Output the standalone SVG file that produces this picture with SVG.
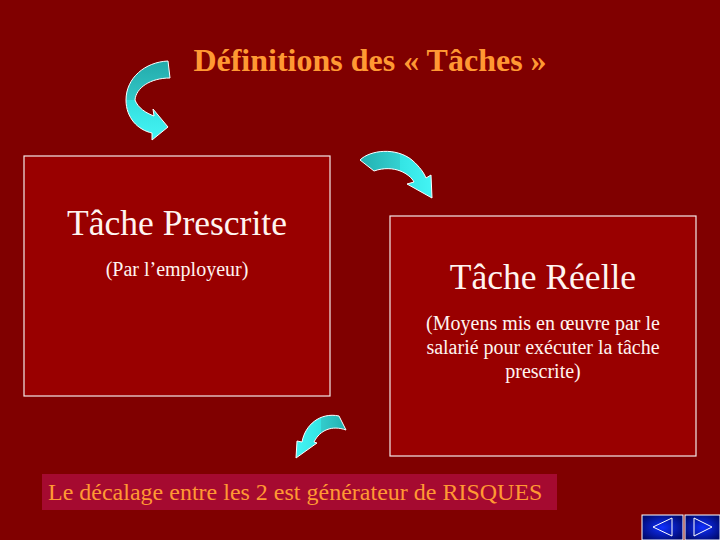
<svg xmlns="http://www.w3.org/2000/svg" width="720" height="540" viewBox="0 0 720 540">
<style>
.box{fill:#990000;stroke:#f4e8e8;stroke-width:1.2}
.big{font-family:"Liberation Serif",serif;font-size:35.5px;fill:#fff4f0;text-anchor:middle}
.small{font-family:"Liberation Serif",serif;font-size:20px;fill:#fff4f0;text-anchor:middle}
.arrow{stroke:#ffffff;stroke-width:1}
</style>
<defs>
<linearGradient id="g1" gradientUnits="userSpaceOnUse" x1="0" y1="60" x2="0" y2="140">
<stop offset="0" stop-color="#22aaaa"/><stop offset="0.5" stop-color="#33c6c6"/><stop offset="0.5" stop-color="#33dede"/><stop offset="1" stop-color="#44f4f4"/>
</linearGradient>
<linearGradient id="g2" gradientUnits="userSpaceOnUse" x1="360" y1="0" x2="432" y2="0">
<stop offset="0" stop-color="#22b0b0"/><stop offset="0.55" stop-color="#33d0d0"/><stop offset="0.55" stop-color="#33e4e4"/><stop offset="1" stop-color="#44f4f4"/>
</linearGradient>
<linearGradient id="g3" gradientUnits="userSpaceOnUse" x1="346" y1="0" x2="296" y2="0">
<stop offset="0" stop-color="#22b0b0"/><stop offset="0.5" stop-color="#33cccc"/><stop offset="0.5" stop-color="#33e4e4"/><stop offset="1" stop-color="#44f4f4"/>
</linearGradient>
<radialGradient id="nav" cx="0.5" cy="0.5" r="0.6">
<stop offset="0" stop-color="#1030ff"/><stop offset="1" stop-color="#000a70"/>
</radialGradient>
</defs>
<rect x="0" y="0" width="720" height="540" fill="#800000"/>
<text x="370" y="71" font-family="'Liberation Serif',serif" font-size="32" font-weight="bold" fill="#ff9933" text-anchor="middle">Définitions des « Tâches »</text>
<g id="connectors">
<path class="arrow" fill="url(#g1)" d="M168,61 L170,78 C150,78 136,88 135,100 C138,108 146,113 154,116 L153,109 L168,127 L152,140 L152,133 C138,130 126,118 126,100 C126,78 145,62 168,61 Z"/>
<path class="arrow" fill="url(#g2)" d="M360,160 C370,150 396,147 412,160 C420,167 424,173 426,178 L431,175 L432,198 L407,184 L414,182 C410,174 394,164 374,171 Z"/>
<path class="arrow" fill="url(#g3)" d="M339,416 L346,430 C332,425 320,430 314,442 L317,443 L296,458 L297,441 L302,442 C305,425 320,412 339,416 Z"/>
</g>
<g id="prescrite">
<rect class="box" x="24" y="156" width="306" height="240"/>
<text class="big" x="177" y="235">Tâche Prescrite</text>
<text class="small" x="177" y="276">(Par l’employeur)</text>
</g>
<g id="reelle">
<rect class="box" x="390" y="216" width="306" height="240"/>
<text class="big" x="543" y="289">Tâche Réelle</text>
<text class="small" x="543" y="330">(Moyens mis en œuvre par le</text>
<text class="small" x="543" y="354">salarié pour exécuter la tâche</text>
<text class="small" x="543" y="378">prescrite)</text>
</g>
<g id="decalage">
<rect x="42" y="474" width="515" height="36" fill="#a50a30"/>
<text x="48" y="500" font-family="'Liberation Serif',serif" font-size="24" fill="#ff9933">Le décalage entre les 2 est générateur de RISQUES</text>
</g>
<g id="nav-prev">
<rect x="642" y="515" width="41" height="25" fill="url(#nav)" stroke="#ffffff" stroke-width="1"/>
<polygon points="653,527 672,518 672,536" fill="none" stroke="#ffffff" stroke-width="1"/>
</g>
<g id="nav-next">
<rect x="685" y="515" width="35" height="25" fill="url(#nav)" stroke="#ffffff" stroke-width="1"/>
<polygon points="694,518 694,536 712,527" fill="none" stroke="#ffffff" stroke-width="1"/>
</g>
</svg>
